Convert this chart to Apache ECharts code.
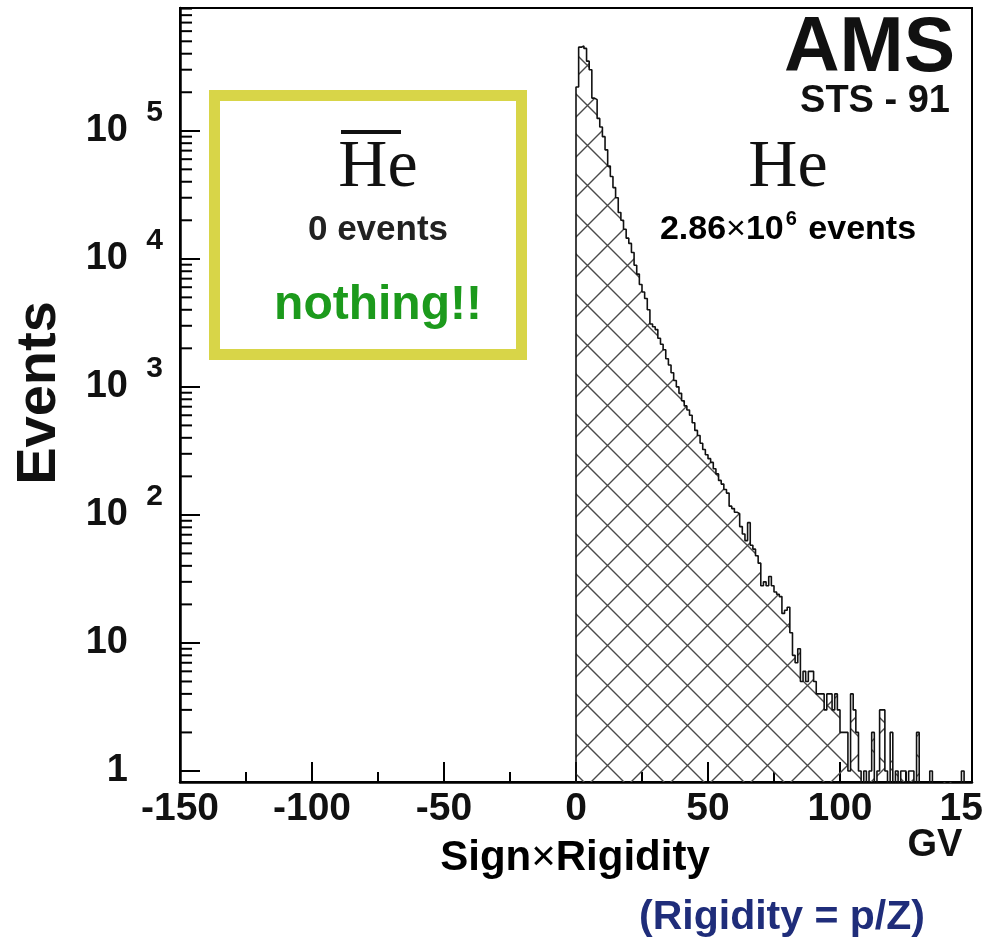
<!DOCTYPE html>
<html>
<head>
<meta charset="utf-8">
<script src="https://cdn.jsdelivr.net/npm/echarts@6/dist/echarts.min.js"></script>
<style>
  html, body { margin: 0; padding: 0; background: #fff; }
  #chart { width: 982px; height: 941px; }
</style>
</head>
<body>
<div id="chart"></div>
<script>
// He events per 1 GV bin of Sign x Rigidity, starting at 0 GV
const binStart = 0;
const binWidth = 1;
const heCounts = [
  220000, 450000, 460000, 440000, 350000, 300000, 180000, 175000, 125000, 107000,
  90000, 71000, 53000, 44000, 36000, 30000, 23000, 20000, 17000, 14500,
  13200, 11200, 8900, 7600, 6300, 5500, 4900, 4000, 3100, 2950,
  2800, 2400, 2150, 1950, 1660, 1480, 1290, 1120, 1000, 890,
  780, 710, 660, 600, 525, 457, 417, 363, 324, 295,
  275, 257, 229, 209, 186, 174, 158, 148, 117, 112,
  105, 102, 81, 71, 63, 87, 58, 54, 48, 42,
  28, 30, 28, 33, 28, 25, 24, 23, 17, 18,
  19, 12, 8, 7, 9, 5, 6, 5, 6, 6,
  5, 4, 4, 4, 3, 4, 4, 3, 4, 3,
  2, 2, 2, 1, 4, 3, 2, 1, 0, 1,
  0, 1, 2, 0, 1, 3, 3, 1, 0, 2,
  0, 1, 0, 1, 1, 0, 1, 1, 0, 2,
  0, 0, 0, 0, 1, 0, 0, 0, 0, 0,
  0, 0, 0, 0, 0, 0, 1, 0
];

const xTicks = [-150, -100, -50, 0, 50, 100, 150];
const yMinorTicks = [
  2, 3, 4, 5, 6, 7, 8, 9,
  20, 30, 40, 50, 60, 70, 80, 90,
  200, 300, 400, 500, 600, 700, 800, 900,
  2000, 3000, 4000, 5000, 6000, 7000, 8000, 9000,
  20000, 30000, 40000, 50000, 60000, 70000, 80000, 90000,
  200000, 300000, 400000, 500000, 600000, 700000, 800000, 900000
];

// empty bins go below the axis floor so the step outline drops to the bottom
const FLOOR = 0.1;
const stepData = [[binStart, FLOOR]];
heCounts.forEach((c, i) => {
  stepData.push([binStart + i * binWidth, c > 0 ? c : FLOOR]);
});
stepData.push([binStart + heCounts.length * binWidth, FLOOR]);

// cross-hatch tile
const tile = document.createElement('canvas');
tile.width = 40;
tile.height = 40;
const tc = tile.getContext('2d');
tc.strokeStyle = '#4a4a4a';
tc.lineWidth = 1.4;
tc.beginPath();
[-78, -38, 2, 42, 82].forEach(c => { tc.moveTo(c - 10, -10); tc.lineTo(c + 50, 50); });
[-27, 13, 53, 93].forEach(d => { tc.moveTo(d + 10, -10); tc.lineTo(d - 50, 50); });
tc.stroke();

const myChart = echarts.init(document.getElementById('chart'));

const font = '"Liberation Sans", Arial, sans-serif';
const serif = '"Liberation Serif", "Times New Roman", serif';

const option = {
  animation: false,
  backgroundColor: '#fff',
  grid: {
    left: 180, right: 10, top: 8, bottom: 159,
    outerBoundsMode: 'none',
    containLabel: false,
    show: true, borderColor: '#000', borderWidth: 2, backgroundColor: 'transparent'
  },
  xAxis: {
    type: 'value',
    min: xTicks[0],
    max: xTicks[xTicks.length - 1],
    interval: 50,
    axisLine: { onZero: false, lineStyle: { color: '#000', width: 2.5 } },
    axisTick: { inside: true, length: 20, lineStyle: { color: '#000', width: 2 } },
    minorTick: { show: true, splitNumber: 2, length: 10, lineStyle: { color: '#000', width: 2 } },
    splitLine: { show: false },
    axisLabel: {
      margin: 8,
      color: '#111',
      fontSize: 39,
      fontWeight: 'bold',
      fontFamily: font,
      showMinLabel: true,
      showMaxLabel: true
    }
  },
  yAxis: {
    type: 'log',
    logBase: 10,
    min: 0.82,
    max: 910000,
    axisLine: { show: true, onZero: false, lineStyle: { color: '#000', width: 2.5 } },
    axisTick: { show: true, inside: true, length: 20, lineStyle: { color: '#000', width: 2 } },
    splitLine: { show: false },
    axisLabel: {
      margin: 17,
      showMinLabel: false,
      showMaxLabel: false,
      formatter: function (v) {
        const l = Math.log10(v);
        const e = Math.round(l);
        if (Math.abs(l - e) > 0.01) return '';
        if (e === 0) return '{b|1}{s| }';
        if (e === 1) return '{b|10}{s| }';
        return '{b|10}{s|' + e + '}';
      },
      rich: {
        b: { fontSize: 38, fontWeight: 'bold', fontFamily: font, color: '#111' },
        s: { fontSize: 30, fontWeight: 'bold', fontFamily: font, color: '#111', width: 18, padding: [0, 0, 36, 17] }
      }
    }
  },
  series: [
    {
      type: 'line',
      step: 'end',
      data: stepData,
      symbol: 'none',
      clip: true,
      lineStyle: { color: '#111', width: 1.6 },
      areaStyle: { origin: 'start', opacity: 1, color: { image: tile, repeat: 'repeat' } },
      z: 2
    },
    {
      type: 'custom',
      data: yMinorTicks,
      silent: true,
      clip: false,
      z: 3,
      renderItem: function (params, api) {
        const p = api.coord([xTicks[0], api.value(0)]);
        return {
          type: 'line',
          shape: { x1: p[0], y1: p[1], x2: p[0] + 12, y2: p[1] },
          style: { stroke: '#000', lineWidth: 2 }
        };
      }
    }
  ],
  graphic: [
    {
      type: 'rect',
      shape: { x: 214.5, y: 95.5, width: 307, height: 259 },
      style: { fill: 'none', stroke: '#d8d548', lineWidth: 11 }
    },
    {
      type: 'text', x: 378, y: 168,
      style: { text: 'He', font: '68px ' + serif, fill: '#111', align: 'center', verticalAlign: 'middle', textAlign: 'center', textVerticalAlign: 'middle' }
    },
    {
      type: 'rect',
      shape: { x: 341, y: 130, width: 60, height: 4 },
      style: { fill: '#111' }
    },
    {
      type: 'text', x: 378, y: 230,
      style: { text: '0 events', font: 'bold 35px ' + font, fill: '#222', align: 'center', verticalAlign: 'middle', textAlign: 'center', textVerticalAlign: 'middle' }
    },
    {
      type: 'text', x: 378, y: 306,
      style: { text: 'nothing!!', font: 'bold 48px ' + font, fill: '#1c9a1c', align: 'center', verticalAlign: 'middle', textAlign: 'center', textVerticalAlign: 'middle' }
    },
    {
      type: 'text', x: 955, y: 50,
      style: { text: 'AMS', font: 'bold 77px ' + font, fill: '#111', align: 'right', verticalAlign: 'middle', textAlign: 'right', textVerticalAlign: 'middle' }
    },
    {
      type: 'text', x: 950, y: 102,
      style: { text: 'STS - 91', font: 'bold 38px ' + font, fill: '#111', align: 'right', verticalAlign: 'middle', textAlign: 'right', textVerticalAlign: 'middle' }
    },
    {
      type: 'text', x: 788, y: 168,
      style: { text: 'He', font: '68px ' + serif, fill: '#111', align: 'center', verticalAlign: 'middle', textAlign: 'center', textVerticalAlign: 'middle' }
    },
    {
      type: 'text', x: 788, y: 230,
      style: {
        text: '{a|2.86}{x|×}{a|10}{s|6}{a| events}',
        align: 'center', verticalAlign: 'middle', textAlign: 'center', textVerticalAlign: 'middle',
        rich: {
          a: { fontSize: 34, fontWeight: 'bold', fontFamily: font, color: '#222' },
          x: { fontSize: 34, fontFamily: font, color: '#222' },
          s: { fontSize: 20, fontWeight: 'bold', fontFamily: font, color: '#222', padding: [0, 2, 22, 2] }
        }
      }
    },
    {
      type: 'text', x: 40, y: 393, rotation: Math.PI / 2,
      style: { text: 'Events', font: 'bold 56px ' + font, fill: '#111', align: 'center', verticalAlign: 'middle', textAlign: 'center', textVerticalAlign: 'middle' }
    },
    {
      type: 'text', x: 575, y: 858,
      style: {
        text: '{a|Sign}{x|×}{a|Rigidity}',
        align: 'center', verticalAlign: 'middle', textAlign: 'center', textVerticalAlign: 'middle',
        rich: {
          a: { fontSize: 42, fontWeight: 'bold', fontFamily: font, color: '#111' },
          x: { fontSize: 42, fontFamily: font, color: '#111' }
        }
      }
    },
    {
      type: 'text', x: 935, y: 846,
      style: { text: 'GV', font: 'bold 38px ' + font, fill: '#111', align: 'center', verticalAlign: 'middle', textAlign: 'center', textVerticalAlign: 'middle' }
    },
    {
      type: 'text', x: 782, y: 918,
      style: { text: '(Rigidity = p/Z)', font: 'bold 41px ' + font, fill: '#1f2d7a', align: 'center', verticalAlign: 'middle', textAlign: 'center', textVerticalAlign: 'middle' }
    }
  ]
};

myChart.setOption(option);
</script>
</body>
</html>
